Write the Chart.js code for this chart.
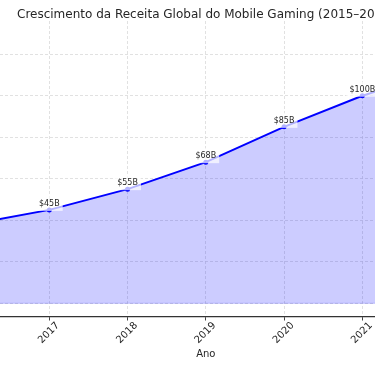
<!DOCTYPE html>
<html>
<head>
<meta charset="utf-8">
<script src="https://cdn.jsdelivr.net/npm/chart.js@4.4.1/dist/chart.umd.min.js"></script>
<style>
  html, body { margin: 0; padding: 0; background: #fff; overflow: hidden; }
  #wrap { width: 375px; height: 366px; position: relative; }
</style>
</head>
<body>
<div id="wrap"><canvas id="c"></canvas></div>
<script>
// --- data ---
const years = [2015, 2016, 2017, 2018, 2019, 2020, 2021, 2022, 2023];
const revenue = [30, 38, 45, 55, 68, 85, 100, 112, 125]; // billions USD
const revenue_labels = ['$30B', '$38B', '$45B', '$55B', '$68B', '$85B', '$100B', '$112B', '$125B'];
const y_ticks = [0, 20, 40, 60, 80, 100, 120];
const chart_title = 'Crescimento da Receita Global do Mobile Gaming (2015–2023)';
const x_title = 'Ano';

const FONT = '"DejaVu Sans", sans-serif';
const TEXT = '#262626';
const GRID = '#d9d9d9';

// annotations + rotated tick labels + titles, matplotlib style
const textPlugin = {
  id: 'mplText',
  beforeDatasetsDraw(chart) {
    // edge of the filled area along zero
    const { ctx, chartArea, scales: { y } } = chart;
    const y0 = y.getPixelForValue(0);
    ctx.save();
    ctx.strokeStyle = 'rgba(0,0,255,0.2)';
    ctx.lineWidth = 1;
    ctx.beginPath();
    ctx.moveTo(chartArea.left, y0);
    ctx.lineTo(chartArea.right, y0);
    ctx.stroke();
    ctx.restore();
  },
  afterDatasetsDraw(chart) {
    const { ctx } = chart;
    const meta = chart.getDatasetMeta(0);
    ctx.save();
    ctx.font = '8px ' + FONT;
    meta.data.forEach((pt, i) => {
      const label = revenue_labels[i];
      const w = ctx.measureText(label).width;
      const base = pt.y - 4;
      // semi transparent white box behind the label
      ctx.fillStyle = 'rgba(255,255,255,0.7)';
      ctx.fillRect(pt.x - w / 2 - 3, base - 10, w + 6, 15);
      ctx.fillStyle = TEXT;
      ctx.textAlign = 'center';
      ctx.textBaseline = 'alphabetic';
      ctx.fillText(label, pt.x, base);
    });
    ctx.restore();
  },
  afterDraw(chart) {
    const { ctx, scales: { x } } = chart;
    ctx.save();
    ctx.fillStyle = TEXT;
    // rotated year labels
    ctx.font = '10px ' + FONT;
    ctx.textAlign = 'center';
    ctx.textBaseline = 'middle';
    years.forEach(yr => {
      const px = x.getPixelForValue(yr);
      ctx.save();
      ctx.translate(px - 0.5, 333);
      ctx.rotate(-Math.PI / 4);
      ctx.fillText(String(yr), 0, 0);
      ctx.restore();
    });
    // axis title, centered on the full 2015-2023 span
    const mid = x.getPixelForValue((years[0] + years[years.length - 1]) / 2);
    ctx.textBaseline = 'alphabetic';
    ctx.fillText(x_title, mid, 356.5);
    // chart title (runs off the right edge, as in the original)
    ctx.font = '12px ' + FONT;
    ctx.textAlign = 'left';
    ctx.fillText(chart_title, 17, 17.5);
    ctx.restore();
  }
};

new Chart(document.getElementById('c'), {
  type: 'line',
  data: {
    datasets: [{
      label: 'Receita',
      data: years.map((yr, i) => ({ x: yr, y: revenue[i] })),
      borderColor: '#0000ff',
      borderWidth: 2,
      backgroundColor: 'rgba(0,0,255,0.2)',
      fill: 'origin',
      tension: 0,
      pointRadius: 2.5,
      pointBorderWidth: 0,
      pointBackgroundColor: '#0000ff'
    }]
  },
  options: {
    responsive: true,
    maintainAspectRatio: false,
    animation: false,
    layout: { autoPadding: false, padding: { top: 21, left: 0, right: 0, bottom: 0 } },
    plugins: { legend: { display: false }, tooltip: { enabled: false } },
    scales: {
      x: {
        type: 'linear',
        min: 2016.37,
        max: 2021.162,
        afterBuildTicks: s => { s.ticks = years.filter(v => v >= s.min && v <= s.max).map(v => ({ value: v })); },
        afterFit: s => { s.height = 49; },
        ticks: { display: false },
        grid: { color: GRID, lineWidth: 0.8, tickLength: 3.5, tickColor: '#444', tickWidth: 1, tickBorderDash: [] },
        border: { display: true, color: '#333', width: 1.2, dash: [3, 2] }
      },
      y: {
        type: 'linear',
        min: -6.6,
        max: 136,
        afterBuildTicks: s => { s.ticks = y_ticks.map(v => ({ value: v })); },
        afterFit: s => { s.width = 0; },
        ticks: { display: false },
        grid: { color: GRID, lineWidth: 0.8, drawTicks: false },
        border: { display: false, dash: [3, 2] }
      }
    }
  },
  plugins: [textPlugin]
});
</script>
</body>
</html>
